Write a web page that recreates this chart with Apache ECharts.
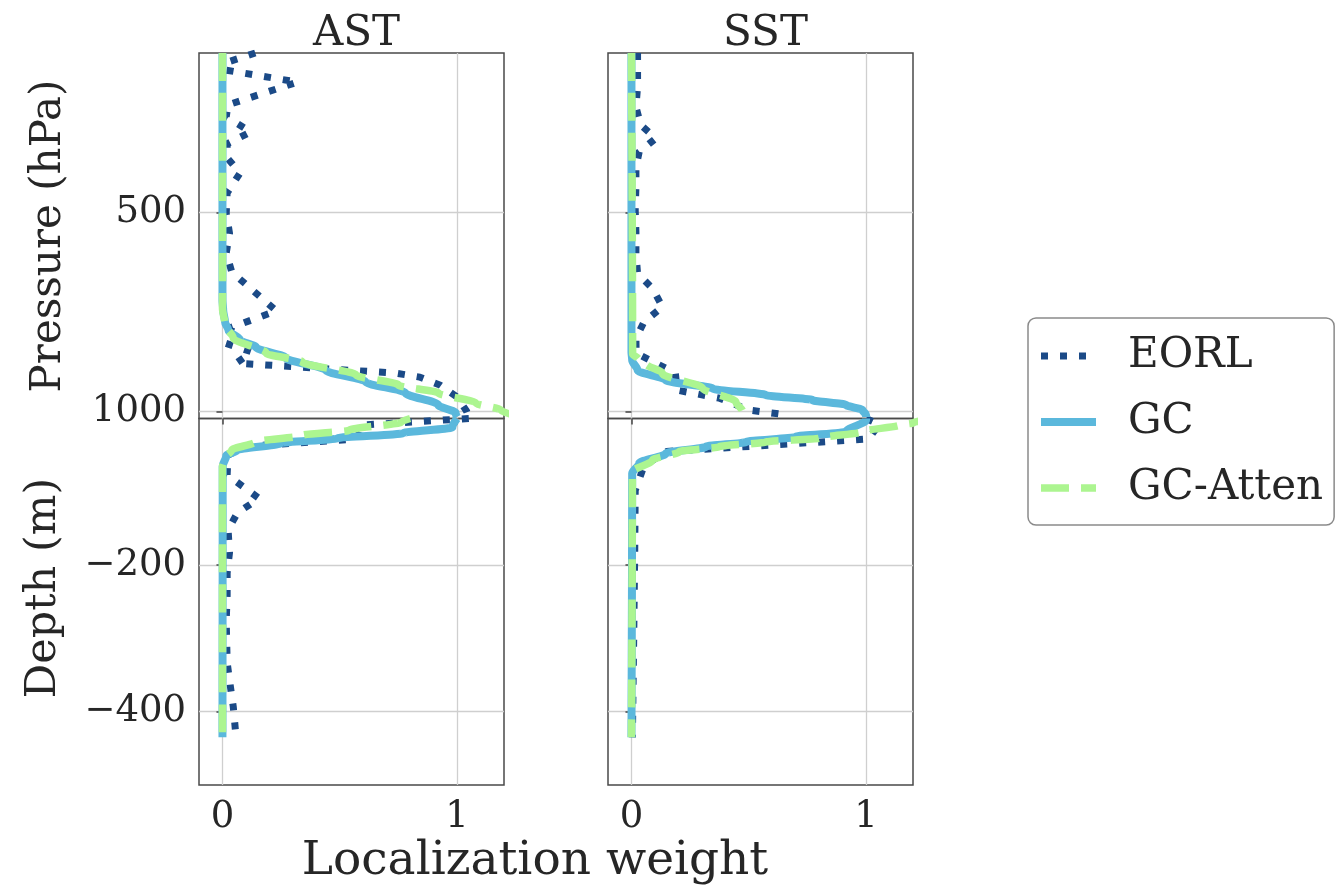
<!DOCTYPE html>
<html><head><meta charset="utf-8">
<script src="https://cdn.jsdelivr.net/npm/echarts@6/dist/echarts.min.js"></script>
<style>html,body{margin:0;padding:0;background:#fff}#c{width:1340px;height:895px}</style>
</head><body><div id="c"></div>
<script>
// ---------- data ----------
const panelTitles = ['AST', 'SST'];
const seriesNames = ['EORL', 'GC', 'GC-Atten'];
const weightTicks = [0, 1];
const pressureTicks = [500, 1000];
const depthTicks = [-200, -400];

// AST, atmosphere (pressure hPa)
const astAtmEorlP = [100, 123, 143, 173, 230, 260, 298, 328, 363, 401, 451, 502, 552, 602, 650, 747, 788, 828, 850, 878, 903, 913, 933, 963, 998, 1013];
const astAtmEorlW = [0.14, 0.02, 0.016, 0.32, 0.024, 0.016, 0.12, 0.02, 0.02, 0.075, 0.02, 0.016, 0.03, 0.016, 0.04, 0.23, 0.04, 0.012, 0.126, 0.058, 0.735, 0.84, 0.927, 1.0, 1.04, 1.05];
const astAtmGcP = [100, 720, 745, 775, 795, 820, 838, 865, 896, 925, 953, 983, 1003, 1013];
const astAtmGcW = [0, 0, 0.003, 0.011, 0.025, 0.075, 0.143, 0.27, 0.44, 0.61, 0.78, 0.92, 0.994, 1.0];
const astAtmAttP = [100, 740, 783, 815, 853, 875, 908, 933, 953, 978, 996, 1013];
const astAtmAttW = [0, 0, 0.011, 0.046, 0.186, 0.34, 0.57, 0.75, 0.92, 1.08, 1.186, 1.27];
// AST, ocean (depth m)
const astOcnEorlD = [0, -9, -28, -38, -50, -77, -109, -129, -152, -183, -211, -241, -276, -333, -364, -393, -435];
const astOcnEorlW = [1.05, 0.595, 0.573, 0.097, 0.024, 0.02, 0.156, 0.063, 0.024, 0.03, 0.02, 0.02, 0.016, 0.02, 0.033, 0.046, 0.058];
const astOcnGcD = [0, -12, -20, -27, -34, -43, -51, -65, -435];
const astOcnGcW = [1.0, 0.98, 0.77, 0.49, 0.245, 0.063, 0.016, 0.001, 0];
const astOcnAttD = [0, -5, -16, -23, -32, -43, -54, -66, -435];
const astOcnAttW = [0.8, 0.76, 0.54, 0.34, 0.14, 0.04, 0.01, 0, 0];

// SST, atmosphere (pressure hPa)
const sstAtmEorlP = [100, 185, 235, 281, 314, 348, 386, 436, 494, 549, 603, 653, 691, 737, 774, 816, 853, 903, 946, 966, 996, 1007];
const sstAtmEorlW = [0.026, 0.026, 0.019, 0.04, 0.104, 0.033, 0.019, 0.019, 0.016, 0.019, 0.019, 0.026, 0.09, 0.132, 0.054, 0.019, 0.02, 0.187, 0.195, 0.375, 0.502, 0.65];
const sstAtmGcP = [100, 850, 871, 896, 921, 942, 958, 971, 983, 996, 1008, 1013];
const sstAtmGcW = [0, 0, 0.003, 0.026, 0.147, 0.346, 0.573, 0.772, 0.915, 0.985, 1.0, 1.0];
const sstAtmAttP = [100, 855, 868, 879, 904, 941, 975, 1000, 1008];
const sstAtmAttW = [0, 0.005, 0.03, 0.061, 0.132, 0.303, 0.445, 0.474, 0.48];
// SST, ocean (depth m)
const sstOcnEorlD = [0, -8, -28, -45, -64, -98, -180, -290, -435];
const sstOcnEorlW = [1.0, 1.056, 1.01, 0.152, 0.054, 0.016, 0.014, 0.01, 0.004];
const sstOcnGcD = [0, -2, -18, -25, -32, -38.5, -47.6, -61, -75, -435];
const sstOcnGcW = [1.0, 1.0, 0.915, 0.70, 0.488, 0.317, 0.147, 0.033, 0.003, 0];
const sstOcnAttD = [0, -6, -9, -18, -27, -32, -38.5, -45.4, -56.7, -72.7, -435];
const sstOcnAttW = [1.3, 1.2, 1.142, 0.984, 0.80, 0.573, 0.374, 0.203, 0.09, 0.004, 0];

// ---------- styling / layout ----------
const FONT = 'DejaVu Serif';
const TXT = '#262626';
const COLORS = { 'EORL': '#1b4a87', 'GC': '#5bb8dc', 'GC-Atten': '#acf590' };
const LSTYLE = {
  'EORL': { width: 7, type: [7, 12] },
  'GC': { width: 8, type: 'solid' },
  'GC-Atten': { width: 7.5, type: [28, 12] }
};
const panelLeft = [199, 608];
const panelWidth = 305;
const topY = 53, midY = 418.5, botY = 785;

const grids = [], xAxes = [], yAxes = [];
const minus = v => (v < 0 ? '\u2212' + Math.abs(v) : String(v));

for (let p = 0; p < 2; p++) {
  for (let k = 0; k < 2; k++) {
    const isTop = k === 0;
    grids.push({
      left: panelLeft[p], width: panelWidth,
      top: isTop ? topY : midY, height: isTop ? midY - topY : botY - midY,
      show: true, borderColor: '#4a4a4a', borderWidth: 1.5, backgroundColor: 'transparent',
      containLabel: false
    });
    const gi = grids.length - 1;
    xAxes.push({
      type: 'value', gridIndex: gi, min: -0.1, max: 1.2,
      axisLine: { show: false },
      axisTick: { show: !isTop, length: 6, lineStyle: { color: '#444', width: 1.5 }, customValues: weightTicks },
      axisLabel: { show: !isTop, customValues: weightTicks, margin: 14,
        fontFamily: FONT, fontSize: 37, color: TXT, formatter: v => minus(v) },
      splitLine: { show: true, lineStyle: { color: '#cfcfcf', width: 1.3 } }
    });
    const yt = isTop ? pressureTicks : depthTicks;
    yAxes.push({
      type: 'value', gridIndex: gi,
      inverse: isTop,
      min: isTop ? 100 : -500, max: isTop ? 1017 : 0,
      axisLine: { show: false },
      axisTick: { show: true, length: 6, lineStyle: { color: '#444', width: 1.5 }, customValues: yt },
      axisLabel: { show: p === 0, customValues: yt, margin: 13,
        fontFamily: FONT, fontSize: 37, color: TXT, formatter: v => minus(v) },
      splitLine: { show: true, lineStyle: { color: '#cfcfcf', width: 1.3 } }
    });
  }
}

function mk(name, gi, ys, ws) {
  const smooth = name !== 'EORL';
  return {
    name, type: 'line', xAxisIndex: gi, yAxisIndex: gi,
    data: ws.map((w, i) => [w, ys[i]]),
    symbol: 'none', showSymbol: false,
    smooth: smooth ? 0.3 : false, smoothMonotone: smooth ? 'y' : undefined,
    clip: true, animation: false,
    z: 2 + seriesNames.indexOf(name),
    itemStyle: { color: COLORS[name] },
    lineStyle: { color: COLORS[name], width: LSTYLE[name].width, type: LSTYLE[name].type, cap: 'butt', join: 'miter' }
  };
}

const series = [
  mk('EORL', 0, astAtmEorlP, astAtmEorlW),
  mk('GC', 0, astAtmGcP, astAtmGcW),
  mk('GC-Atten', 0, astAtmAttP, astAtmAttW),
  mk('EORL', 1, astOcnEorlD, astOcnEorlW),
  mk('GC', 1, astOcnGcD, astOcnGcW),
  mk('GC-Atten', 1, astOcnAttD, astOcnAttW),
  mk('EORL', 2, sstAtmEorlP, sstAtmEorlW),
  mk('GC', 2, sstAtmGcP, sstAtmGcW),
  mk('GC-Atten', 2, sstAtmAttP, sstAtmAttW),
  mk('EORL', 3, sstOcnEorlD, sstOcnEorlW),
  mk('GC', 3, sstOcnGcD, sstOcnGcW),
  mk('GC-Atten', 3, sstOcnAttD, sstOcnAttW)
];

const chart = echarts.init(document.getElementById('c'), null, { renderer: 'canvas' });
chart.setOption({
  backgroundColor: '#ffffff',
  animation: false,
  title: panelTitles.map((t, p) => ({
    text: t, left: panelLeft[p] + panelWidth / 2, top: 8, textAlign: 'center',
    textStyle: { fontFamily: FONT, fontSize: 42, fontWeight: 'normal', color: TXT }
  })),
  legend: {
    data: seriesNames, orient: 'vertical', left: 1028, top: 318,
    padding: [17, 11, 16, 9], itemGap: 24, itemWidth: 55, itemHeight: 14,
    borderColor: '#8a8a8a', borderWidth: 1.5, borderRadius: 8, backgroundColor: '#fff',
    itemStyle: { opacity: 0, borderWidth: 0 },
    lineStyle: { width: 'inherit', type: 'inherit', cap: 'butt' },
    textStyle: { fontFamily: FONT, fontSize: 42, color: TXT, padding: [0, 0, 0, 27] }
  },
  grid: grids, xAxis: xAxes, yAxis: yAxes, series,
  graphic: [
    { type: 'text', x: 535, y: 862, style: { text: 'Localization weight', fontFamily: FONT, fontSize: 47, fill: TXT, align: 'center', verticalAlign: 'middle' } },
    { type: 'text', x: 49, y: 236, rotation: Math.PI / 2, style: { text: 'Pressure (hPa)', fontFamily: FONT, fontSize: 42, fill: TXT, align: 'center', verticalAlign: 'middle' } },
    { type: 'text', x: 44, y: 588, rotation: Math.PI / 2, style: { text: 'Depth (m)', fontFamily: FONT, fontSize: 43, fill: TXT, align: 'center', verticalAlign: 'middle' } }
  ]
});
</script>
</body></html>
